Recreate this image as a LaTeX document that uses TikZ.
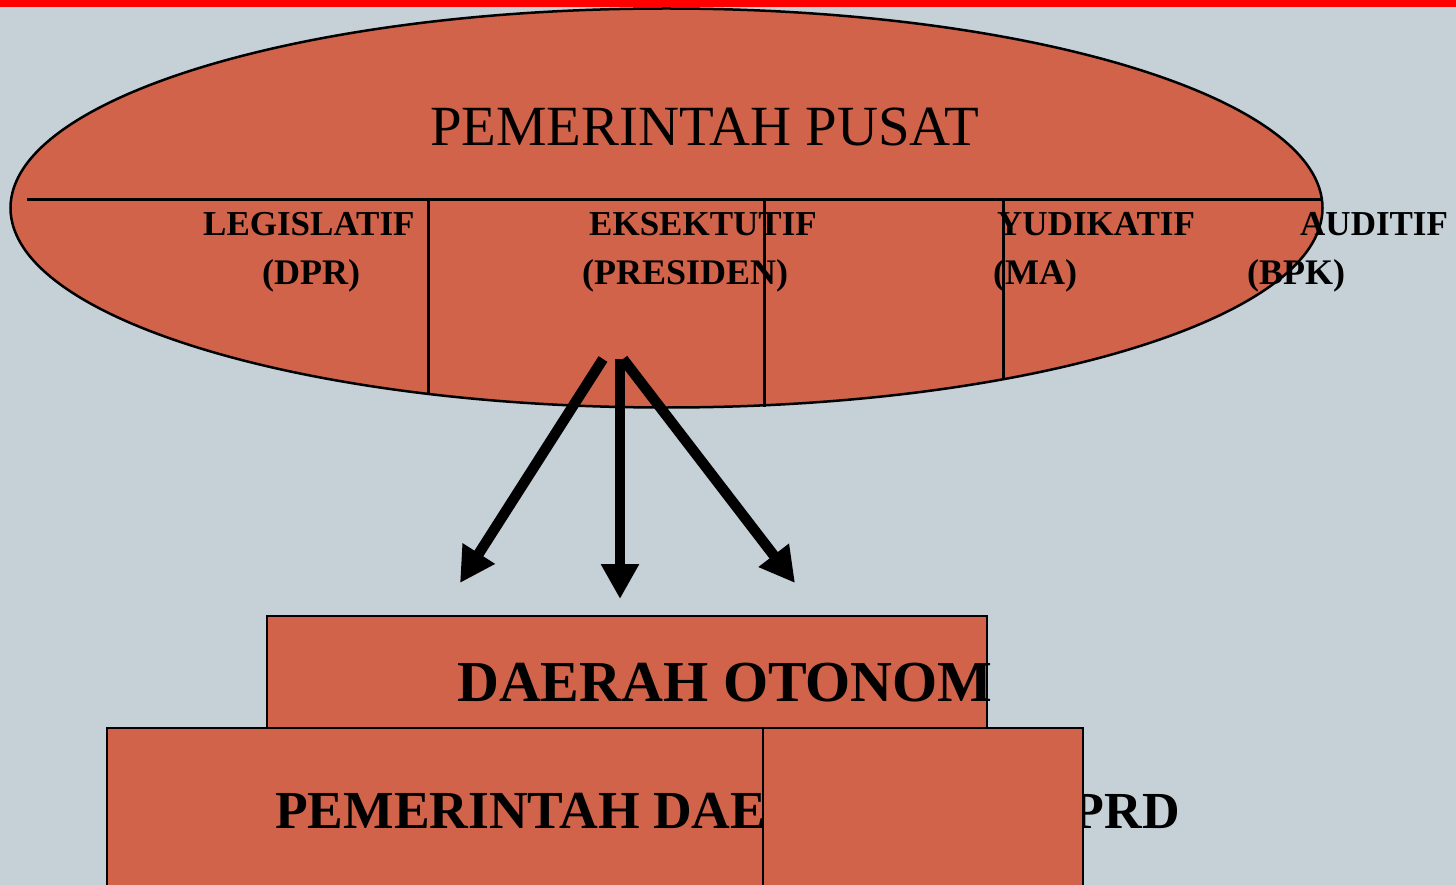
\documentclass[tikz,border=0pt]{standalone}
\usepackage{fontspec}
\setmainfont{Liberation Serif}
\usetikzlibrary{arrows.meta,shapes.geometric}
\definecolor{bgc}{HTML}{C5D0D7}
\definecolor{brick}{HTML}{D0634A}
\tikzset{
  branch/.style={font=\fontsize{35}{40}\selectfont\bfseries, inner sep=0pt, anchor=base west},
  paren/.style={font=\fontsize{36}{40}\selectfont\bfseries, inner sep=0pt, anchor=base west},
  divline/.style={line width=3pt, black},
  boxshape/.style={draw=black, line width=2.5pt, fill=brick},
  bigarrow/.style={line width=10.5pt, -{Triangle[length=35pt,width=36pt]}},
}
\begin{document}
\begin{tikzpicture}[x=1pt,y=-1pt]
\useasboundingbox (0,0) rectangle (1456,885);
\fill[bgc] (0,0) rectangle (1456,885);
\fill[red] (0,0) rectangle (1456,7.5);
% central ellipse
\node[ellipse, draw=black, line width=2.5pt, fill=brick, minimum width=1312pt, minimum height=399pt, inner sep=0pt] (pusat) at (666.5,208) {};
\node[font=\fontsize{56.8}{60}\selectfont, inner sep=0pt, anchor=base west] (title) at (430,146) {PEMERINTAH PUSAT};
% dividing lines
\coordinate (hl) at (27,200);
\coordinate (hr) at (1322,200);
\draw[divline] (hl) -- (hr);
\coordinate (v1t) at (428,200); \coordinate (v1b) at (428,393);
\coordinate (v2t) at (764,200); \coordinate (v2b) at (764,407);
\coordinate (v3t) at (1003,200); \coordinate (v3b) at (1003,378);
% branch labels
\node[branch] (leg) at (203,236) {LEGISLATIF};
\node[paren] (dpr) at (262,284) {(DPR)};
\node[branch] (eks) at (589,236) {EKSEKTUTIF};
\node[paren] (pres) at (582,284) {(PRESIDEN)};
\node[branch] (yud) at (997,236) {YUDIKATIF};
\node[paren] (ma) at (993,284) {(MA)};
\node[branch] (aud) at (1300,236) {AUDITIF};
\node[paren] (bpk) at (1247,284) {(BPK)};
\draw[divline] (v1t) -- (v1b);
\draw[divline] (v2t) -- (v2b);
\draw[divline] (v3t) -- (v3b);
% arrows
\coordinate (aL0) at (603,359); \coordinate (aL1) at (460,583);
\coordinate (aM0) at (620,359); \coordinate (aM1) at (620,599);
\coordinate (aR0) at (623,359); \coordinate (aR1) at (795,583);
\draw[bigarrow] (aL0) -- (aL1);
\draw[bigarrow] (aM0) -- (aM1);
\draw[bigarrow] (aR0) -- (aR1);
% boxes
\path[boxshape] (267,616) rectangle (987,728);
\node[font=\fontsize{58}{60}\selectfont\bfseries, inner sep=0pt, anchor=base west] (otonom) at (457,701) {DAERAH OTONOM};
\path[boxshape] (107,728) rectangle (763,895);
\node[font=\fontsize{53.5}{60}\selectfont\bfseries, inner sep=0pt, anchor=base west] (pemda) at (275,828) {PEMERINTAH DAERAH};
\node[font=\fontsize{52}{60}\selectfont\bfseries, inner sep=0pt, anchor=base east] (dprd) at (1180,828) {DPRD};
\path[boxshape] (763,728) rectangle (1083,895);
\end{tikzpicture}
\end{document}
